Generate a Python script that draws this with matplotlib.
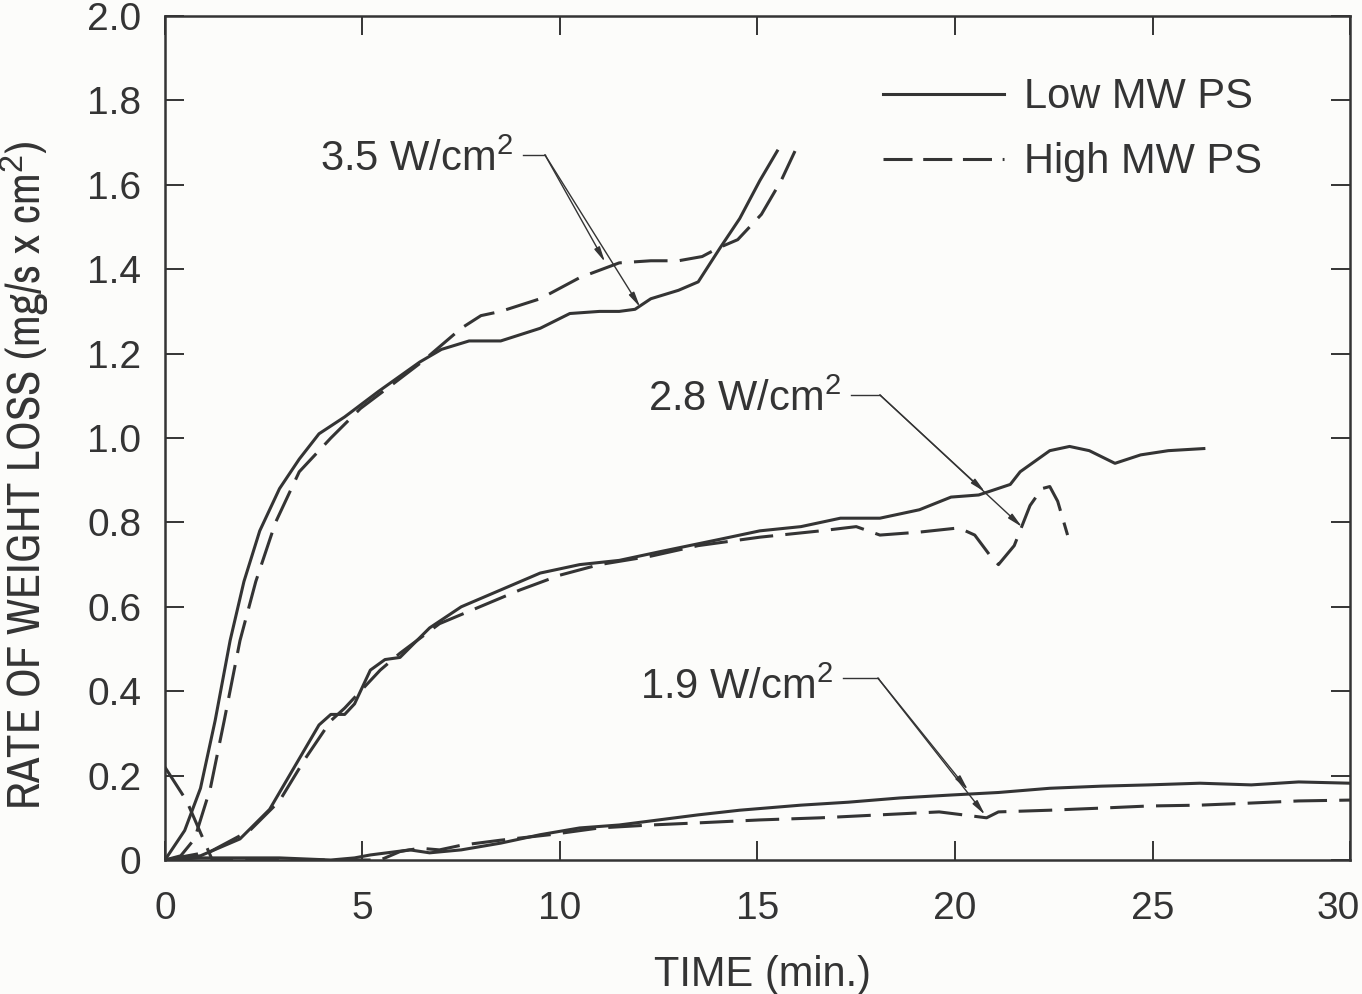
import matplotlib.pyplot as plt
from matplotlib import font_manager
from matplotlib.transforms import ScaledTranslation

# fonts: pick a narrow face for the long y label if one is installed
fonts = font_manager.fontManager.ttflist
narrow = None
for f in fonts:
    if 'Narrow' in f.name or 'Condensed' in f.name:
        narrow = dict(family=f.name, stretch='normal')
        break
if narrow is None:
    for f in fonts:
        if f.name == 'DejaVu Sans' and f.stretch in ('condensed', 'semi-condensed'):
            narrow = dict(family='DejaVu Sans', stretch=f.stretch)
            break
if narrow is None:
    narrow = dict(family='Liberation Sans', stretch='normal')

plt.rcParams['font.family'] = ['Liberation Sans', 'DejaVu Sans']
plt.rcParams['mathtext.fontset'] = 'custom'
plt.rcParams['mathtext.rm'] = 'Liberation Sans'
plt.rcParams['mathtext.it'] = 'Liberation Sans'

ink = '#343434'

# 3.5 W/cm2
t35_low = [0, 0.5, 0.9, 1.27, 1.65, 2.0, 2.4, 2.9, 3.4, 3.9, 4.55, 5.4, 6.45, 7.0, 7.7, 8.5,
           9.5, 10.25, 11.0, 11.5, 11.9, 12.3, 13.0, 13.5, 14.05, 14.55, 15.06, 15.5]
v35_low = [0, 0.07, 0.17, 0.33, 0.52, 0.66, 0.78, 0.88, 0.95, 1.01, 1.05, 1.11, 1.18, 1.21, 1.23, 1.23,
           1.26, 1.295, 1.30, 1.30, 1.305, 1.33, 1.35, 1.37, 1.45, 1.52, 1.61, 1.68]
t35_high = [0, 0.4, 0.75, 1.15, 1.5, 1.9, 2.3, 2.8, 3.4, 4.2, 4.95, 5.8, 6.5, 7.0, 7.5, 8.0, 8.5,
            9.5, 10.5, 11.5, 12.3, 13.0, 13.6, 14.0, 14.5, 15.1, 15.6, 15.95]
v35_high = [0, 0.01, 0.05, 0.17, 0.33, 0.52, 0.66, 0.80, 0.92, 1.00, 1.07, 1.13, 1.18, 1.22, 1.26, 1.29, 1.30,
            1.33, 1.38, 1.415, 1.42, 1.42, 1.43, 1.45, 1.47, 1.53, 1.61, 1.68]

# 2.8 W/cm2
t28_low = [0, 0.9, 1.9, 2.65, 3.4, 3.9, 4.2, 4.55, 4.8, 5.2, 5.57, 5.95, 6.7, 7.5, 8.5, 9.5, 10.5,
           11.5, 12.5, 14.05, 15.06, 16.1, 17.1, 18.1, 19.1, 19.9, 20.6, 21.4, 21.65, 22.4, 22.9,
           23.4, 24.05, 24.7, 25.4, 26.3]
v28_low = [0, 0.01, 0.05, 0.12, 0.24, 0.32, 0.345, 0.345, 0.37, 0.45, 0.475, 0.48, 0.55, 0.60, 0.64, 0.68, 0.70,
           0.71, 0.73, 0.76, 0.78, 0.79, 0.81, 0.81, 0.83, 0.86, 0.865, 0.89, 0.92, 0.97, 0.98,
           0.97, 0.94, 0.96, 0.97, 0.975]
t28_high = [0, 1.15, 2.15, 2.9, 3.55, 4.2, 4.55, 4.95, 5.45, 5.95, 6.95, 7.97, 8.99, 10.0, 11.0, 12.3,
            13.5, 15.06, 16.6, 17.5, 18.1, 19.1, 20.1, 20.5, 20.9, 21.1, 21.5, 21.9, 22.2, 22.4, 22.6, 22.85]
v28_high = [0, 0.02, 0.07, 0.14, 0.24, 0.33, 0.36, 0.40, 0.45, 0.49, 0.56, 0.60, 0.64, 0.675, 0.70, 0.72,
            0.745, 0.765, 0.78, 0.79, 0.77, 0.777, 0.787, 0.77, 0.72, 0.70, 0.745, 0.84, 0.88, 0.885, 0.85, 0.77]

# 1.9 W/cm2
t19_low = [0, 0.9, 2.9, 4.2, 4.8, 5.2, 6.2, 6.7, 7.5, 8.5, 9.5, 10.5, 11.5, 12.5, 13.5, 14.55, 16.1,
           17.3, 18.6, 19.9, 21.1, 22.4, 23.7, 24.9, 26.2, 27.5, 28.7, 30.0]
v19_low = [0, 0.005, 0.005, 0.0, 0.005, 0.012, 0.024, 0.017, 0.024, 0.04, 0.06, 0.076, 0.083, 0.095, 0.107, 0.118, 0.13,
           0.137, 0.147, 0.154, 0.16, 0.17, 0.175, 0.178, 0.182, 0.178, 0.185, 0.182]
t19_high = [0, 0.55, 1.2, 3.0, 5.45, 5.95, 6.45, 6.95, 7.5, 8.5, 9.75, 11.0, 12.3, 13.5, 15.06, 16.6,
            18.1, 19.6, 20.8, 21.1, 22.4, 23.7, 24.9, 26.2, 27.5, 28.7, 30.0]
v19_high = [0.22, 0.14, 0.0, 0.0, 0.0, 0.02, 0.028, 0.024, 0.035, 0.047, 0.06, 0.076, 0.083, 0.088, 0.095, 0.1,
            0.107, 0.114, 0.10, 0.114, 0.118, 0.123, 0.128, 0.13, 0.135, 0.14, 0.142]

labels = ['3.5 W/cm$^2$', '2.8 W/cm$^2$', '1.9 W/cm$^2$']

fig = plt.figure(figsize=(13.62, 9.94), dpi=100, facecolor='#fcfcfa')
ax = fig.add_axes([0.1211, 0.1348, 0.8701, 0.8491])
ax.set_facecolor('#fcfcfa')

lw = 2.2
dash = (11, 4)
ax.plot(t35_low, v35_low, color=ink, lw=lw, label='Low MW PS')
ax.plot(t35_high, v35_high, color=ink, lw=lw, dashes=dash, label='High MW PS')
ax.plot(t28_low, v28_low, color=ink, lw=lw)
ax.plot(t28_high, v28_high, color=ink, lw=lw, dashes=dash)
ax.plot(t19_low, v19_low, color=ink, lw=lw)
ax.plot(t19_high, v19_high, color=ink, lw=lw, dashes=dash)

ax.set_xlim(0, 30)
ax.set_ylim(0, 2.0)

# labels with a short leader, then an arrow through both curves
notes = [
    (labels[0], (3.92, 1.66), (9.62, 1.671), (11.14, 1.417), (12.03, 1.31)),
    (labels[1], (12.23, 1.09), (18.1, 1.102), (20.76, 0.872), (21.7, 0.789)),
    (labels[2], (12.03, 0.408), (18.05, 0.431), (20.33, 0.166), (20.76, 0.107)),
]
for txt, pos, corner, mid, end in notes:
    t = ax.text(pos[0], pos[1], txt, fontsize=30, color=ink, va='center', ha='left')
    fig.canvas.draw()
    bb = t.get_window_extent().transformed(ax.transData.inverted())
    ax.plot([bb.x1 + 0.25, corner[0]], [corner[1], corner[1]], color=ink, lw=1.0)
    for tip in (mid, end):
        ax.annotate('', xy=tip, xytext=corner,
                    arrowprops=dict(arrowstyle='-|>,head_length=0.9,head_width=0.18',
                                    color=ink, lw=1.0, shrinkA=0, shrinkB=0))

ax.set_xticks([0, 5, 10, 15, 20, 25, 30])
ax.set_yticks([0, 0.2, 0.4, 0.6, 0.8, 1.0, 1.2, 1.4, 1.6, 1.8, 2.0])
ax.set_yticklabels(['0', '0.2', '0.4', '0.6', '0.8', '1.0', '1.2', '1.4', '1.6', '1.8', '2.0'])
ax.tick_params(direction='in', length=14, width=1.4, top=True, right=True,
               labelsize=28, colors=ink)
ax.tick_params(axis='x', pad=22)
ax.tick_params(axis='y', pad=17)
for s in ax.spines.values():
    s.set_linewidth(1.8)
    s.set_color(ink)

# keep the last x label inside the figure
last = ax.get_xticklabels()[-1]
last.set_transform(last.get_transform() + ScaledTranslation(-0.12, 0, fig.dpi_scale_trans))

ax.set_xlabel('TIME (min.)', fontsize=30, color=ink)
ax.xaxis.set_label_coords(0.504, -0.112)

ylab = ax.set_ylabel('RATE OF WEIGHT LOSS (mg/s x cm$^2$)', fontsize=30, color=ink, **narrow)
ax.yaxis.set_label_coords(-0.095, 0.456)
# squeeze the label to the height it takes beside the axis
fig.canvas.draw()
h = ylab.get_window_extent().height
ylab.set_fontsize(30 * 670 / h)

leg = ax.legend(loc='upper left', bbox_to_anchor=(0.5916, 0.947), borderaxespad=0,
                frameon=False, fontsize=30, handlelength=2.9, handletextpad=0.48,
                labelspacing=0.6)
for txt in leg.get_texts():
    txt.set_color(ink)
leg.get_lines()[1].set_dashes((9.5, 3.5))

fig.savefig('out.png', dpi=100, facecolor=fig.get_facecolor())
